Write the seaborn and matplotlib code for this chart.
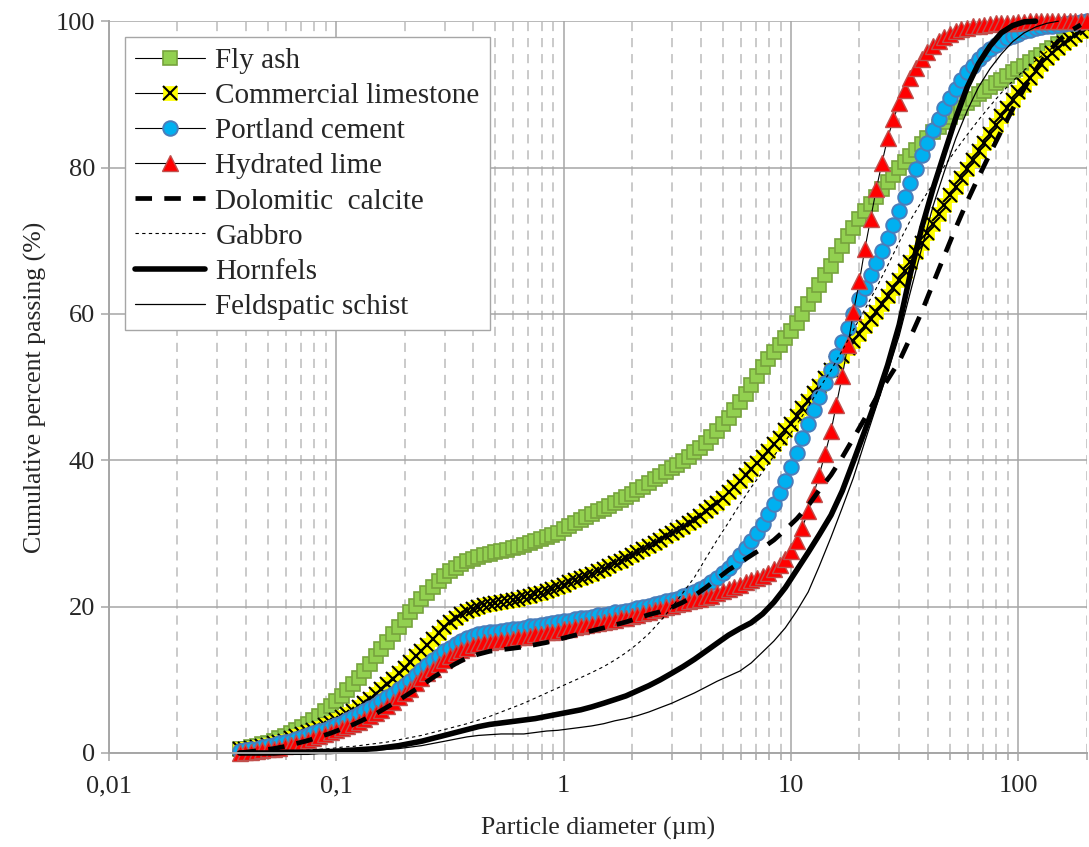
import matplotlib
matplotlib.use("Agg")
import matplotlib.pyplot as plt
import matplotlib.ticker as mticker
from matplotlib.lines import Line2D
import seaborn as sns

# laser diffraction size classes (um), 40 classes per decade
size_um = [
    0.0376, 0.0398, 0.0422, 0.0447, 0.0473, 0.0501, 0.0531, 0.0562, 0.0596, 0.0631,
    0.0668, 0.0708, 0.0750, 0.0794, 0.0841, 0.0891, 0.0944,
    0.100, 0.106, 0.112, 0.119, 0.126, 0.133, 0.141, 0.150, 0.158, 0.168,
    0.178, 0.188, 0.200, 0.211, 0.224, 0.237, 0.251, 0.266, 0.282, 0.299,
    0.316, 0.335, 0.355, 0.376, 0.398, 0.422, 0.447, 0.473, 0.501, 0.531,
    0.562, 0.596, 0.631, 0.668, 0.708, 0.750, 0.794, 0.841, 0.891, 0.944,
    1.00, 1.06, 1.12, 1.19, 1.26, 1.33, 1.41, 1.50, 1.58, 1.68,
    1.78, 1.88, 2.00, 2.11, 2.24, 2.37, 2.51, 2.66, 2.82, 2.99,
    3.16, 3.35, 3.55, 3.76, 3.98, 4.22, 4.47, 4.73, 5.01, 5.31,
    5.62, 5.96, 6.31, 6.68, 7.08, 7.50, 7.94, 8.41, 8.91, 9.44,
    10.0, 10.6, 11.2, 11.9, 12.6, 13.3, 14.1, 15.0, 15.8, 16.8,
    17.8, 18.8, 20.0, 21.1, 22.4, 23.7, 25.1, 26.6, 28.2, 29.9,
    31.6, 33.5, 35.5, 37.6, 39.8, 42.2, 44.7, 47.3, 50.1, 53.1,
    56.2, 59.6, 63.1, 66.8, 70.8, 75.0, 79.4, 84.1, 89.1, 94.4,
    100, 106, 112, 119, 126, 133, 141, 150, 158, 168, 178, 188, 200,
]
# the plain lines only need every other class
line_um = size_um[::2]

# cumulative percent passing, materials (one value per size class)
fly_ash = [
    0.5, 0.6, 0.8, 1.0, 1.2, 1.4, 1.7, 2.0, 2.3, 2.7, 3.1, 3.5, 4.0, 4.5, 5.1, 5.7, 6.4,
    7.1, 7.8, 8.6, 9.4, 10.3, 11.2, 12.2, 13.2, 14.2, 15.2,
    16.2, 17.2, 18.2, 19.2, 20.1, 21.0, 21.9, 22.7, 23.5, 24.2,
    24.8, 25.3, 25.8, 26.2, 26.5, 26.8, 27.0, 27.2, 27.4, 27.6,
    27.8, 28.0, 28.2, 28.4, 28.7, 28.9, 29.2, 29.5, 29.8, 30.1,
    30.6, 31.0, 31.4, 31.8, 32.2, 32.6, 33.0, 33.4, 33.8, 34.2,
    34.6, 35.0, 35.4, 35.9, 36.4, 36.9, 37.4, 37.9, 38.4, 38.9,
    39.4, 39.9, 40.5, 41.1, 41.7, 42.4, 43.2, 44.0, 44.9, 45.8,
    46.8, 47.9, 49.1, 50.3, 51.5, 52.7, 53.8, 54.8, 55.8, 56.7,
    57.6, 58.8, 60.0, 61.3, 62.6, 64.0, 65.3, 66.6, 68.0, 69.3,
    70.6, 71.8, 72.9, 74.0, 75.0, 76.0, 77.0, 78.0, 79.0, 80.0,
    80.7, 81.6, 82.4, 83.2, 84.0, 84.8, 85.5, 86.2, 86.9, 87.6,
    88.2, 88.8, 89.4, 90.0, 90.5, 91.0, 91.5, 92.0, 92.5, 93.0,
    93.4, 93.9, 94.4, 94.9, 95.4, 95.9, 96.4, 96.9, 97.4, 97.8, 98.2, 98.6, 99.0,
]
limestone = [
    0.5, 0.6, 0.7, 0.8, 0.9, 1.1, 1.3, 1.5, 1.7, 2.0, 2.3, 2.6, 2.8, 3.1, 3.4, 3.8, 4.1,
    4.5, 4.9, 5.3, 5.8, 6.3, 6.8, 7.4, 8.0, 8.7, 9.4,
    10.1, 10.9, 11.6, 12.4, 13.2, 14.0, 14.8, 15.6, 16.4, 17.2,
    17.9, 18.5, 19.0, 19.4, 19.7, 20.0, 20.2, 20.4, 20.5, 20.6,
    20.8, 20.9, 21.1, 21.3, 21.5, 21.7, 21.9, 22.2, 22.4, 22.7,
    23.0, 23.3, 23.6, 23.9, 24.2, 24.5, 24.8, 25.2, 25.6, 26.0,
    26.3, 26.7, 27.1, 27.5, 27.9, 28.3, 28.7, 29.1, 29.6, 30.0,
    30.5, 30.9, 31.4, 31.9, 32.4, 33.0, 33.6, 34.2, 34.9, 35.6,
    36.4, 37.2, 38.0, 38.8, 39.6, 40.4, 41.3, 42.2, 43.1, 44.1,
    45.0, 46.1, 47.1, 48.1, 49.2, 50.2, 51.3, 52.3, 53.3, 54.3,
    55.3, 56.3, 57.3, 58.3, 59.3, 60.3, 61.3, 62.4, 63.5, 64.7,
    65.9, 67.1, 68.4, 69.7, 71.0, 72.3, 73.6, 74.9, 76.2, 77.4,
    78.6, 79.8, 81.0, 82.2, 83.4, 84.6, 85.8, 87.0, 88.1, 89.2,
    90.3, 91.3, 92.3, 93.2, 94.1, 94.9, 95.7, 96.4, 97.0, 97.6, 98.1, 98.6, 99.0,
]
cement = [
    0.3, 0.4, 0.5, 0.6, 0.8, 0.9, 1.1, 1.3, 1.5, 1.7, 1.9, 2.2, 2.4, 2.7, 3.0, 3.2, 3.5,
    3.8, 4.1, 4.5, 4.9, 5.3, 5.7, 6.1, 6.6, 7.1, 7.6,
    8.1, 8.7, 9.3, 9.9, 10.6, 11.3, 12.0, 12.7, 13.3, 13.9,
    14.4, 14.9, 15.3, 15.7, 16.0, 16.2, 16.4, 16.5, 16.6, 16.7,
    16.8, 16.9, 17.0, 17.1, 17.3, 17.4, 17.5, 17.6, 17.8, 17.9,
    18.0, 18.1, 18.3, 18.4, 18.5, 18.6, 18.8, 18.9, 19.0, 19.2,
    19.3, 19.4, 19.6, 19.8, 20.0, 20.1, 20.3, 20.5, 20.7, 20.9,
    21.1, 21.4, 21.7, 22.0, 22.4, 22.8, 23.3, 23.9, 24.6, 25.3,
    26.1, 27.0, 28.0, 29.0, 30.1, 31.3, 32.6, 34.0, 35.5, 37.2,
    39.1, 41.0, 43.0, 44.9, 46.8, 48.7, 50.5, 52.4, 54.3, 56.2,
    58.1, 60.0, 62.0, 63.6, 65.3, 67.0, 68.6, 70.4, 72.2, 74.1,
    76.0, 77.9, 79.8, 81.7, 83.4, 85.1, 86.7, 88.1, 89.5, 90.8,
    92.0, 93.0, 93.9, 94.8, 95.5, 96.2, 96.8, 97.3, 97.7, 98.0,
    98.3, 98.6, 98.8, 99.0, 99.2, 99.3, 99.4, 99.5, 99.6, 99.7, 99.8, 99.9, 100.0,
]
lime = [
    0.0, 0.1, 0.2, 0.3, 0.4, 0.5, 0.6, 0.7, 0.9, 1.1, 1.3, 1.5, 1.8, 2.0, 2.3, 2.6, 2.9,
    3.1, 3.4, 3.7, 4.0, 4.3, 4.6, 5.0, 5.4, 5.9, 6.4,
    7.0, 7.6, 8.2, 8.8, 9.5, 10.2, 10.9, 11.5, 12.1, 12.7,
    13.2, 13.7, 14.1, 14.4, 14.7, 14.9, 15.1, 15.2, 15.3, 15.4,
    15.5, 15.6, 15.8, 15.9, 16.0, 16.2, 16.3, 16.5, 16.6, 16.7,
    16.9, 17.0, 17.2, 17.3, 17.5, 17.6, 17.7, 17.9, 18.0, 18.2,
    18.4, 18.5, 18.7, 18.9, 19.1, 19.3, 19.5, 19.7, 19.9, 20.1,
    20.3, 20.5, 20.7, 20.9, 21.1, 21.3, 21.5, 21.8, 22.1, 22.4,
    22.7, 23.0, 23.3, 23.6, 23.9, 24.2, 24.6, 25.1, 25.7, 26.5,
    27.6, 29.0, 30.8, 33.0, 35.4, 38.0, 40.8, 44.0, 47.5, 51.5,
    55.8, 60.2, 64.5, 68.8, 73.0, 77.0, 80.6, 84.0, 86.6, 88.8,
    90.6, 92.2, 93.6, 94.8, 95.8, 96.6, 97.3, 97.9, 98.3, 98.6,
    98.9, 99.1, 99.3, 99.4, 99.5, 99.6, 99.7, 99.7, 99.8, 99.8,
    99.9, 99.9, 100, 100, 100, 100, 100, 100, 100, 100, 100, 100, 100,
]

# cumulative percent passing, rocks (one value per line class)
dolomitic = [
    0.0, 0.2, 0.4, 0.6, 0.9, 1.3, 1.7, 2.2, 2.7, 3.3,
    3.9, 4.6, 5.4, 6.3, 7.2, 8.2, 9.2, 10.3, 11.3, 12.2,
    13.0, 13.5, 13.9, 14.1, 14.3, 14.5, 14.8, 15.1, 15.5, 15.9,
    16.3, 16.7, 17.1, 17.5, 17.9, 18.4, 18.9, 19.3, 19.9, 20.6,
    21.5, 22.6, 23.8, 25.0, 26.0, 27.0, 28.0, 29.1, 30.5, 32.0,
    33.8, 35.9, 38.0, 40.4, 43.0, 45.7, 48.5, 51.0, 53.5, 56.8,
    60.3, 64.2, 68.0, 71.8, 75.4, 78.7, 81.9, 85.0, 88.0, 90.8,
    93.3, 95.5, 97.3, 98.6, 99.5,
]
gabbro = [
    0.0, 0.0, 0.1, 0.1, 0.2, 0.3, 0.4, 0.5, 0.6, 0.8,
    0.9, 1.1, 1.3, 1.5, 1.8, 2.1, 2.4, 2.8, 3.2, 3.6,
    4.0, 4.5, 5.0, 5.6, 6.2, 6.8, 7.5, 8.2, 8.9, 9.6,
    10.3, 11.0, 11.8, 12.7, 13.7, 14.9, 16.3, 18.0, 19.9, 21.9,
    24.0, 26.6, 29.1, 31.5, 34.0, 36.3, 38.4, 40.6, 42.6, 44.9,
    47.3, 49.8, 52.3, 55.0, 57.8, 60.6, 63.5, 66.6, 69.8, 72.8,
    75.4, 77.8, 80.2, 82.4, 84.5, 86.5, 88.4, 90.2, 91.8, 93.3,
    94.6, 95.8, 96.9, 97.9, 98.8,
]
hornfels = [
    0.0, 0.0, 0.0, 0.0, 0.1, 0.1, 0.1, 0.2, 0.2, 0.3,
    0.4, 0.5, 0.6, 0.8, 1.0, 1.3, 1.6, 2.0, 2.4, 2.8,
    3.2, 3.6, 3.9, 4.1, 4.3, 4.5, 4.7, 5.0, 5.3, 5.6,
    5.9, 6.3, 6.8, 7.3, 7.8, 8.5, 9.2, 10.0, 10.9, 11.8,
    12.8, 13.9, 15.0, 16.1, 17.0, 17.8, 19.0, 20.6, 22.6, 25.0,
    27.4, 29.8, 32.5, 35.8, 39.8, 44.0, 48.3, 53.0, 58.5, 65.5,
    71.8, 77.2, 82.0, 86.8, 91.0, 94.2, 96.6, 98.4, 99.4, 99.9,
    100.0,
]
schist = [
    0.0, 0.0, 0.0, 0.0, 0.0, 0.0, 0.1, 0.1, 0.1, 0.2,
    0.2, 0.3, 0.4, 0.5, 0.6, 0.8, 1.0, 1.3, 1.6, 1.9,
    2.2, 2.4, 2.5, 2.6, 2.6, 2.6, 2.8, 3.0, 3.1, 3.3,
    3.5, 3.7, 4.0, 4.4, 4.7, 5.1, 5.6, 6.2, 6.8, 7.5,
    8.2, 9.0, 9.8, 10.5, 11.2, 12.3, 13.8, 15.3, 17.1, 19.4,
    22.0, 25.5, 29.5, 33.5, 37.6, 42.5, 47.3, 52.0, 57.0, 63.0,
    69.0, 74.8, 79.5, 84.0, 87.8, 91.0, 93.5, 95.5, 97.2, 98.4,
    99.2, 99.7, 100.0,
]

labels = ["Fly ash", "Commercial limestone", "Portland cement", "Hydrated lime",
          "Dolomitic  calcite", "Gabbro", "Hornfels", "Feldspatic schist"]
x_ticks = [0.01, 0.1, 1, 10, 100]
x_tick_labels = ["0,01", "0,1", "1", "10", "100"]

GRID = "#a6a6a6"
GRID_MINOR = "#bcbcbc"

sns.set_theme(style="white")
plt.rcParams["font.family"] = ["Liberation Serif", "DejaVu Serif"]

fig, ax = plt.subplots(figsize=(10.89, 8.47), dpi=100)
fig.subplots_adjust(left=0.100, right=0.998, top=0.975, bottom=0.111)

# marker styles, shared by the plot and the legend
fly_style = dict(marker="s", markersize=10, markerfacecolor="#92D050",
                 markeredgecolor="#77A33D", markeredgewidth=1.2)
lime_sq_style = dict(marker="s", markersize=10, markerfacecolor="#FFFF00",
                     markeredgecolor="#FFFF00", markeredgewidth=0.5)
cross_style = dict(marker="x", markersize=9.5, markeredgecolor="black",
                   markeredgewidth=1.5)
cem_style = dict(marker="o", markersize=10.5, markerfacecolor="#00B0F0",
                 markeredgecolor="#4A7EBB", markeredgewidth=1.4)
hl_style = dict(marker="^", markersize=11.5, markerfacecolor="#FF0000",
                markeredgecolor="#C0504D", markeredgewidth=1.0)
dash_style = dict(color="black", linewidth=3.4, linestyle=(0, (3.5, 2.6)))
gab_style = dict(color="black", linewidth=0.8, linestyle=(0, (3, 3)))
horn_style = dict(color="black", linewidth=4.0, linestyle="-")
sch_style = dict(color="black", linewidth=0.9, linestyle="-")

common = dict(ax=ax, errorbar=None, legend=False, clip_on=False)

sns.lineplot(x=size_um, y=fly_ash, color="black", linewidth=0.8, **fly_style, **common)
sns.lineplot(x=size_um, y=limestone, color="black", linewidth=0.8, **lime_sq_style, **common)
sns.lineplot(x=size_um, y=limestone, color="black", linestyle="none", **cross_style, **common)
sns.lineplot(x=size_um, y=cement, color="black", linewidth=0.8, **cem_style, **common)
sns.lineplot(x=size_um, y=lime, color="black", linewidth=0.8, **hl_style, **common)

sns.lineplot(x=line_um[:len(dolomitic)], y=dolomitic, **dash_style, **common)
sns.lineplot(x=line_um[:len(gabbro)], y=gabbro, **gab_style, **common)
sns.lineplot(x=line_um[:len(hornfels)], y=hornfels, **horn_style, **common)
sns.lineplot(x=line_um[:len(schist)], y=schist, **sch_style, **common)

# axes
ax.set_xscale("log")
ax.set_xlim(0.01, 200)
ax.set_ylim(0, 100)
ax.xaxis.set_major_locator(mticker.FixedLocator(x_ticks))
ax.xaxis.set_major_formatter(mticker.FixedFormatter(x_tick_labels))
ax.xaxis.set_minor_locator(mticker.LogLocator(base=10, subs=range(2, 10), numticks=20))
ax.xaxis.set_minor_formatter(mticker.NullFormatter())
ax.yaxis.set_major_locator(mticker.MultipleLocator(20))

ax.set_axisbelow(True)
ax.grid(which="major", axis="both", color=GRID, linewidth=1.1, linestyle="-")
ax.grid(which="minor", axis="x", color=GRID_MINOR, linewidth=1.1, linestyle=(0, (6, 4.5)))

for side in ["top", "right"]:
    ax.spines[side].set_visible(False)
for side in ["left", "bottom"]:
    ax.spines[side].set_color(GRID)
    ax.spines[side].set_linewidth(1.4)

ax.tick_params(axis="x", which="both", bottom=True, direction="out", color=GRID, width=1.1)
ax.tick_params(axis="x", which="major", length=6, labelsize=19, pad=10)
ax.tick_params(axis="x", which="minor", length=5)
ax.tick_params(axis="y", which="major", left=True, direction="out", length=6,
               color=GRID, width=1.1, labelsize=19, pad=4)

ax.set_xlabel("Particle diameter (\u00b5m)", fontsize=18.5, labelpad=14)
ax.set_ylabel("Cumulative percent passing (%)", fontsize=18.5, labelpad=6)

# legend
handles = [
    Line2D([], [], color="black", linewidth=0.8, **fly_style),
    (Line2D([], [], color="black", linewidth=0.8, **lime_sq_style),
     Line2D([], [], linestyle="none", **cross_style)),
    Line2D([], [], color="black", linewidth=0.8, **cem_style),
    Line2D([], [], color="black", linewidth=0.8, **hl_style),
    Line2D([], [], **dash_style),
    Line2D([], [], **gab_style),
    Line2D([], [], **horn_style),
    Line2D([], [], **sch_style),
]
leg = ax.legend(handles, labels, loc="upper left", fontsize=21, frameon=True,
                fancybox=False, framealpha=1, edgecolor=GRID, handlelength=2.4,
                handletextpad=0.35, labelspacing=0.3, borderpad=0.35,
                borderaxespad=0.55)
leg.get_frame().set_linewidth(1.0)

fig.savefig("out.png", dpi=100)
